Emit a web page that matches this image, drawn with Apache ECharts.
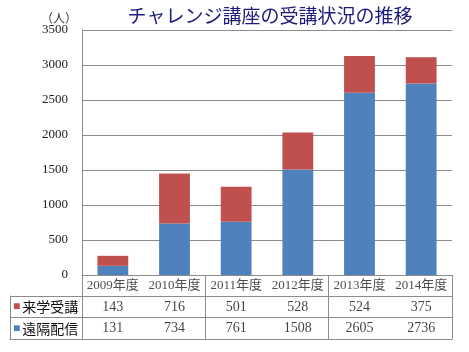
<!DOCTYPE html>
<html>
<head>
<meta charset="utf-8">
<script src="https://cdn.jsdelivr.net/npm/echarts@6/dist/echarts.min.js"></script>
<style>html,body{margin:0;padding:0;background:#fff}#c{width:469px;height:352px}</style>
</head>
<body>
<div id="c"></div>
<script>
const categories = ['2009年度','2010年度','2011年度','2012年度','2013年度','2014年度'];
const seriesNames = ['来学受講','遠隔配信'];
const raigaku = [143, 716, 501, 528, 524, 375];
const enkaku = [131, 734, 761, 1508, 2605, 2736];
const yTicks = [0, 500, 1000, 1500, 2000, 2500, 3000, 3500];
const colors = {'来学受講':'#C0504D','遠隔配信':'#4F81BD'};

const gridColor = '#8c8c8c';
const serif = "'Liberation Serif','DejaVu Serif','Noto Sans CJK JP',serif";
const cjk = "'Noto Sans CJK JP',sans-serif";

const rows = ['__cat', seriesNames[0], seriesNames[1]];
const cells = [];
categories.forEach((c, i) => {
  cells.push({value:[c, '__cat', c], label:{fontSize:13, fontFamily:serif, color:'#222'}});
  cells.push({value:[c, seriesNames[0], String(raigaku[i])]});
  cells.push({value:[c, seriesNames[1], String(enkaku[i])]});
});

const chart = echarts.init(document.getElementById('c'));
chart.setOption({
  animation:false,
  backgroundColor:'#fff',
  title:[
    {text:'チャレンジ講座の受講状況の推移', left:265, textAlign:'center', top:1,
     textStyle:{fontFamily:cjk, fontSize:19, fontWeight:'normal', color:'#1c1c7c'}},
    {text:'（人）', left:36, top:7, textStyle:{fontFamily:cjk, fontSize:12, fontWeight:'normal', color:'#333'}}
  ],
  grid:[
    {left:82, right:17, top:30, height:245},
    {left:82, right:17, top:275, height:64},
    {left:10, width:72, top:296, height:43}
  ],
  xAxis:[
    {type:'category', gridIndex:0, data:categories,
     axisLine:{show:true, lineStyle:{color:gridColor}}, axisTick:{show:false}, axisLabel:{show:false}},
    {type:'category', gridIndex:1, data:categories,
     axisLine:{show:true, lineStyle:{color:gridColor}}, axisTick:{show:false}, axisLabel:{show:false},
     splitLine:{show:true, lineStyle:{color:gridColor}}},
    {type:'category', gridIndex:2, data:[''],
     axisLine:{show:true, lineStyle:{color:gridColor}}, axisTick:{show:false}, axisLabel:{show:false}}
  ],
  yAxis:[
    {type:'value', gridIndex:0, min:yTicks[0], max:yTicks[yTicks.length-1], interval:yTicks[1]-yTicks[0],
     axisLine:{show:true, lineStyle:{color:gridColor}}, axisTick:{show:false},
     splitLine:{show:true, lineStyle:{color:gridColor}},
     axisLabel:{margin:14, fontFamily:serif, fontSize:13, color:'#222', formatter:v => String(v)}},
    {type:'category', gridIndex:1, data:rows, inverse:true,
     axisLine:{show:true, lineStyle:{color:gridColor}}, axisTick:{show:false},
     splitLine:{show:true, lineStyle:{color:gridColor}},
     axisLabel:{show:true, align:'left', margin:69,
       formatter:v => v === '__cat' ? '' : (v === seriesNames[0] ? '{r|■}' : '{b|■}') + '{t|' + v + '}',
       rich:{r:{color:colors['来学受講'], fontSize:12, padding:[0,2,0,0]},
             b:{color:colors['遠隔配信'], fontSize:12, padding:[0,2,0,0]},
             t:{fontFamily:cjk, fontSize:14, color:'#111'}}}},
    {type:'category', gridIndex:2, data:['a','b'],
     axisLine:{show:true, lineStyle:{color:gridColor}}, axisTick:{show:false}, axisLabel:{show:false},
     splitLine:{show:true, lineStyle:{color:gridColor}}}
  ],
  series:[
    {name:'遠隔配信', type:'bar', stack:'t', data:enkaku, barWidth:'50%',
     itemStyle:{color:colors['遠隔配信']}},
    {name:'来学受講', type:'bar', stack:'t', data:raigaku, barWidth:'50%',
     itemStyle:{color:colors['来学受講']}},
    {type:'scatter', xAxisIndex:1, yAxisIndex:1, symbolSize:0, data:cells,
     label:{show:true, position:'inside', formatter:p => p.value[2],
       fontFamily:serif, fontSize:14, color:'#111'}}
  ]
});
</script>
</body>
</html>
